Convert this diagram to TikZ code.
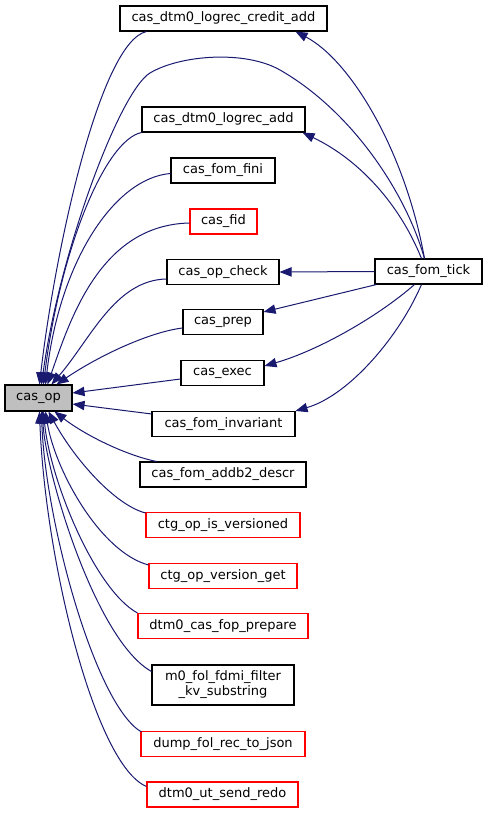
\documentclass[tikz,border=0pt]{standalone}
\usepackage{fontspec}
\setmainfont{DejaVu Sans}
\usetikzlibrary{arrows.meta,calc}
\definecolor{edgeblue}{HTML}{191970}
\definecolor{nodered}{HTML}{FF0000}
\definecolor{opgray}{HTML}{BFBFBF}
\begin{document}
\begin{tikzpicture}[x=0.75pt,y=-0.75pt,
  box/.style={draw=black, line width=0.8pt, inner sep=0pt, minimum height=18.75pt,
    font=\fontsize{9.75}{11.25}\selectfont, align=center},
  redbox/.style={box, draw=nodered},
  bw/.style={minimum width=#1*0.75pt},
  edge/.style={draw=edgeblue, line width=0.75pt, -{Triangle[length=9pt,width=7pt]}}]
\useasboundingbox (0,0) rectangle (488,813);

\node[box,bw=207] (credit) at (223.5,18.5) {cas\_dtm0\_logrec\_credit\_add};
\node[box,bw=163] (logrec) at (223.5,119.5) {cas\_dtm0\_logrec\_add};
\node[box,bw=104] (fini) at (223,170.5) {cas\_fom\_fini};
\node[redbox,bw=67] (fid) at (223.5,221.5) {cas\_fid};
\node[box,bw=112] (opcheck) at (223,272) {cas\_op\_check};
\node[box,bw=107] (tick) at (428.5,271.5) {cas\_fom\_tick};
\node[box,bw=80] (prep) at (223,322) {cas\_prep};
\node[box,bw=83] (exec) at (222.5,373) {cas\_exec};
\node[box,bw=67,minimum height=19.5pt,fill=opgray] (op) at (38.5,398) {cas\_op};
\node[box,bw=143] (inv) at (223.5,424) {cas\_fom\_invariant};
\node[box,bw=166] (addb2) at (223,474.5) {cas\_fom\_addb2\_descr};
\node[redbox,bw=154] (isver) at (223,525) {ctg\_op\_is\_versioned};
\node[redbox,bw=148] (verget) at (223,576) {ctg\_op\_version\_get};
\node[redbox,bw=170] (fop) at (223,626) {dtm0\_cas\_fop\_prepare};
\node[box,bw=142,minimum height=30pt] (m0) at (223,685) {m0\_fol\_fdmi\_filter\\\_kv\_substring};
\node[redbox,bw=164] (dump) at (223,744) {dump\_fol\_rec\_to\_json};
\node[redbox,bw=151] (redo) at (222.5,794.5) {dtm0\_ut\_send\_redo};

% edges into cas_op
\draw[edge] ($(credit.south west)+(27,0)$) .. controls (100,42) and (55,250) .. ($(op.north west)+(35,0)$);
\draw[edge] ($(tick.north west)+(50,0)$) .. controls (405,190) and (350,110) .. (280,70)
  .. controls (245,50) and (180,55) .. (150,73)
  .. controls (120,91) and (60,250) .. ($(op.north west)+(37,0)$);
\draw[edge] (logrec.south west) .. controls (105,140) and (60,250) .. ($(op.north west)+(39,0)$);
\draw[edge] ($(fini.west)+(0,3)$) .. controls (115,178) and (60,260) .. ($(op.north west)+(41,0)$);
\draw[edge] ($(fid.west)+(0,1.5)$) .. controls (100,225) and (70,320) .. ($(op.north west)+(43,0)$);
\draw[edge] ($(opcheck.west)+(0,7)$) .. controls (115,280) and (90,340) .. ($(op.north west)+(47,0)$);
\draw[edge] ($(prep.west)+(0,6)$) .. controls (150,332) and (100,355) .. ($(op.north west)+(52,0)$);
\draw[edge] ($(exec.west)+(0,6)$) -- ($(op.east)+(0,-5)$);
\draw[edge] ($(inv.north west)+(0,3)$) -- ($(op.east)+(0,6)$);
\draw[edge] ($(addb2.north west)+(17,0)$) .. controls (125,455) and (85,435) .. ($(op.south west)+(50,0)$);
\draw[edge] ($(isver.north west)+(0,1)$) .. controls (115,505) and (75,460) .. ($(op.south west)+(44,0)$);
\draw[edge] ($(verget.north west)+(0,2)$) .. controls (100,552) and (55,470) .. ($(op.south west)+(41,0)$);
\draw[edge] (fop.north west) .. controls (95,590) and (50,480) .. ($(op.south west)+(39,0)$);
\draw[edge] ($(m0.north west)+(0,7)$) .. controls (95,640) and (45,470) .. ($(op.south west)+(38,0)$);
\draw[edge] ($(dump.north west)+(1,1)$) .. controls (95,705) and (45,520) .. ($(op.south west)+(37,0)$);
\draw[edge] ($(redo.north west)+(0,5)$) .. controls (95,765) and (45,560) .. ($(op.south west)+(35,0)$);

% edges from cas_fom_tick
\draw[edge] ($(tick.north west)+(50,0)$) .. controls (405,150) and (350,60) .. ($(credit.south east)+(-32,0)$);
\draw[edge] ($(tick.north west)+(47,0)$) .. controls (400,205) and (360,160) .. ($(logrec.south east)+(-3,0)$);
\draw[edge] (tick.west) -- (opcheck.east);
\draw[edge] ($(tick.south west)+(2,0)$) -- ($(prep.north east)+(0,3)$);
\draw[edge] ($(tick.south west)+(40,0)$) .. controls (380,315) and (320,350) .. ($(exec.north east)+(0,6)$);
\draw[edge] ($(tick.south west)+(47,0)$) .. controls (400,335) and (350,395) .. (inv.north east);
\end{tikzpicture}
\end{document}
